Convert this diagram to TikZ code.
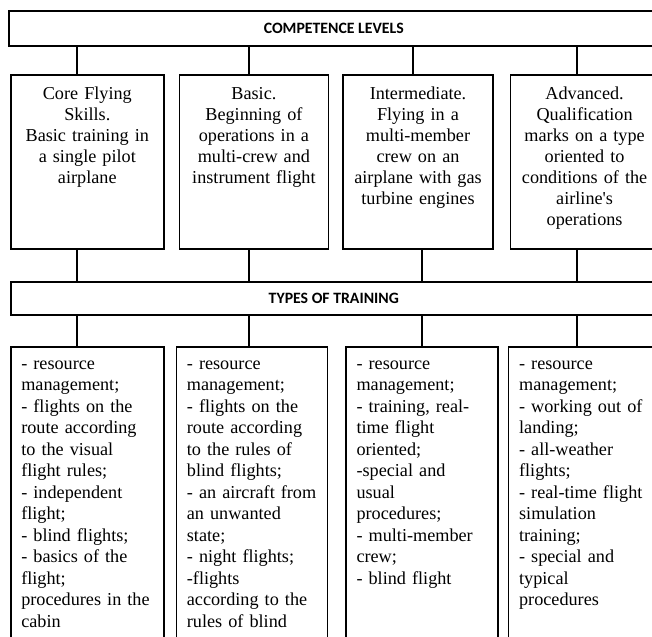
\documentclass[tikz,border=0pt]{standalone}
\usepackage{fontspec}
\setmainfont{Liberation Serif}
\newfontfamily\headfont{Carlito}
\usetikzlibrary{positioning}

\begin{document}
\begin{tikzpicture}[
    x=1bp, y=-1bp,
    band/.style={rectangle, draw=black, line width=1.6bp, inner sep=0pt, anchor=north west, font=\headfont\bfseries\fontsize{15.8bp}{18bp}\selectfont},
    levelbox/.style={rectangle, draw=black, line width=1.6bp, text width=#1, inner xsep=3bp, inner ysep=12bp, text height=13bp, text depth=137bp, align=center, anchor=north west, font=\fontsize{18.2bp}{21bp}\selectfont},
    trainbox/.style={rectangle, draw=black, line width=1.6bp, text width=#1, inner xsep=10.5bp, inner ysep=9.5bp, text height=13bp, text depth=282bp, align=left, anchor=north west, font=\fontsize{18.2bp}{21.5bp}\selectfont},
    link/.style={line width=1.5bp}
]
\useasboundingbox (0,0) rectangle (652,637);
\clip (0,0) rectangle (652,637);

% Competence levels
\node[band, minimum width=650bp, minimum height=35bp] (levels) at (8,10) {COMPETENCE LEVELS};
\node[levelbox=147bp] (l1) at (10,74) {Core Flying\\Skills.\\Basic training in\\a single pilot\\airplane};
\node[levelbox=143bp, right=14bp of l1] (l2) {Basic.\\Beginning of\\operations in a\\multi-crew and\\instrument flight};
\node[levelbox=144bp, right=13bp of l2] (l3) {Intermediate.\\Flying in a\\multi-member\\crew on an\\airplane with gas\\turbine engines};
\node[levelbox=142bp, right=16bp of l3] (l4) {Advanced.\\Qualification\\marks on a type\\oriented to\\conditions of the\\airline\textquotesingle s\\operations};

% Types of training
\node[band, minimum width=646bp, minimum height=33bp] (types) at (10,281) {TYPES OF TRAINING};
\node[trainbox=132bp] (t1) at (10,346) {- resource\\management;\\- flights on the\\route according\\to the visual\\flight rules;\\- independent\\flight;\\- blind flights;\\- basics of the\\flight;\\procedures in the\\cabin};
\node[trainbox=130bp, right=11bp of t1] (t2) {- resource\\management;\\- flights on the\\route according\\to the rules of\\blind flights;\\- an aircraft from\\an unwanted\\state;\\- night flights;\\-flights\\according to the\\rules of blind};
\node[trainbox=131bp, right=17bp of t2] (t3) {- resource\\management;\\- training, real-\\time flight\\oriented;\\-special and\\usual\\procedures;\\- multi-member\\crew;\\- blind flight};
\node[trainbox=131bp, right=9bp of t3] (t4) {- resource\\management;\\- working out of\\landing;\\- all-weather\\flights;\\- real-time flight\\simulation\\training;\\- special and\\typical\\procedures};

% Connector columns
\coordinate (c1) at (77,0);
\coordinate (c2) at (249,0);
\coordinate (c3) at (413,0);
\coordinate (c3b) at (422,0);
\coordinate (c4) at (577,0);

% Connectors
\draw[link] (c1 |- levels.south) -- (c1 |- l1.north);
\draw[link] (c2 |- levels.south) -- (c2 |- l2.north);
\draw[link] (c3 |- levels.south) -- (c3 |- l3.north);
\draw[link] (c4 |- levels.south) -- (c4 |- l4.north);
\draw[link] (c1 |- l1.south) -- (c1 |- types.north);
\draw[link] (c2 |- l2.south) -- (c2 |- types.north);
\draw[link] (c3b |- l3.south) -- (c3b |- types.north);
\draw[link] (c4 |- l4.south) -- (c4 |- types.north);
\draw[link] (c1 |- types.south) -- (c1 |- t1.north);
\draw[link] (c2 |- types.south) -- (c2 |- t2.north);
\draw[link] (c3b |- types.south) -- (c3b |- t3.north);
\draw[link] (c4 |- types.south) -- (c4 |- t4.north);

\end{tikzpicture}
\end{document}
